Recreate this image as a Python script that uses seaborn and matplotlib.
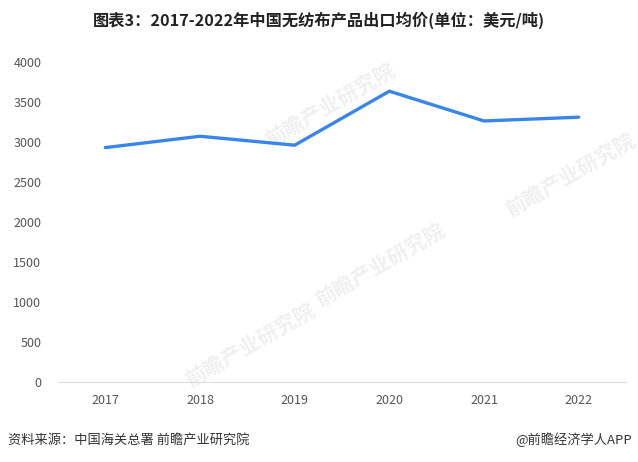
import pandas as pd
import seaborn as sns
import matplotlib.pyplot as plt

# データ
years = ["2017", "2018", "2019", "2020", "2021", "2022"]
avg_price = [2930, 3072, 2960, 3635, 3263, 3310]

df = pd.DataFrame({"year": years, "price": avg_price})

sns.set_theme(style="white")
plt.rcParams["font.family"] = ["Noto Sans CJK SC", "DejaVu Sans"]

fig = plt.figure(figsize=(6.38, 4.62), dpi=100)
ax = fig.add_axes([58 / 638, 1 - 382 / 462, (626 - 58) / 638, (382 - 62) / 462])
ax.set_zorder(2)

# 透かし (背面)
for (wx, wy) in [(330, 105), (570, 175), (380, 265), (250, 345)]:
    fig.text(wx / 638, 1 - wy / 462, "前瞻产业研究院", fontsize=15, fontweight="bold",
             color="#f0f0f0", rotation=30, ha="center", va="center", zorder=0)

sns.lineplot(data=df, x="year", y="price", color="#3a86e8", linewidth=2.4,
             sort=False, ax=ax)

ax.set_ylim(0, 4000)
ax.set_yticks(range(0, 4001, 500))
ax.set_xlim(-0.5, len(years) - 0.5)
ax.set_xlabel("")
ax.set_ylabel("")
ax.patch.set_alpha(0)
for s in ["top", "right", "left"]:
    ax.spines[s].set_visible(False)
ax.spines["bottom"].set_color("#dddddd")
ax.spines["bottom"].set_linewidth(0.8)
ax.tick_params(axis="both", length=0, labelsize=9, colors="#555555")
ax.tick_params(axis="y", pad=12)
ax.tick_params(axis="x", pad=9)

fig.text(0.5, 1 - 20 / 462, "图表3：2017-2022年中国无纺布产品出口均价(单位：美元/吨)",
         ha="center", va="center", fontsize=11.7, fontweight="bold", color="#222222")
fig.text(8 / 638, 1 - 440 / 462, "资料来源：中国海关总署 前瞻产业研究院",
         ha="left", va="center", fontsize=9.5, color="#333333")
fig.text(632 / 638, 1 - 440 / 462, "@前瞻经济学人APP",
         ha="right", va="center", fontsize=9.5, color="#333333")

fig.savefig("out.png", dpi=100)
